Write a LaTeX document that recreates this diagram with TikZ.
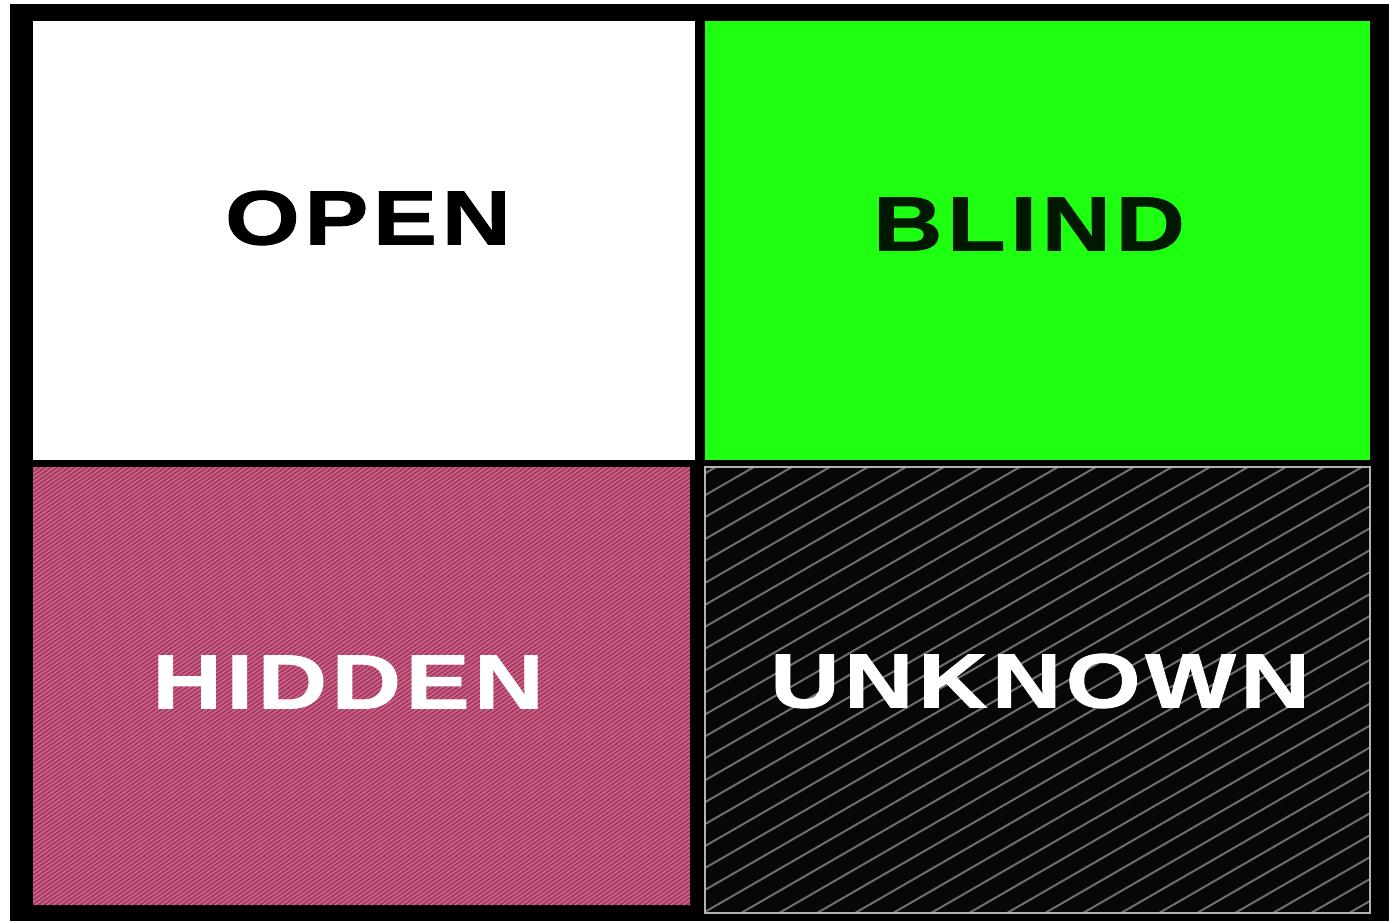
\documentclass[tikz,border=0pt]{standalone}
\usepackage{fontspec}
\newfontfamily\wordfont[FakeStretch=1.25,LetterSpace=6,FakeBold=1.2]{Liberation Sans}
\usetikzlibrary{positioning}
\definecolor{jgreen}{HTML}{1EFF12}
\definecolor{jrose}{HTML}{A23760}
\definecolor{jroseline}{HTML}{CF648C}
\definecolor{jblack}{HTML}{070707}
\definecolor{jgrey}{HTML}{6E6E6E}
\tikzset{
  pane/.style={anchor=north west,inner sep=0pt,outer sep=0pt},
  word/.style={font=\wordfont\bfseries\fontsize{38.4}{40}\selectfont,inner sep=0pt},
  rosehatch/.style={fill=jrose,path picture={
    \foreach \i in {-1000,-994,...,700}
      \draw[jroseline,line width=0.75pt] (path picture bounding box.south west) ++(\i,0) -- ++(1000,-700);}},
  darkhatch/.style={fill=jblack,draw=gray!60,line width=1pt,path picture={
    \foreach \i in {-800,-762,...,700}
      \draw[jgrey,line width=1pt] (path picture bounding box.south west) ++(\i,0) -- ++(1000,-577);}},
}

\begin{document}
\begin{tikzpicture}[x=0.5pt,y=-0.5pt]
  \useasboundingbox (0,0) rectangle (1390,921);
  \node[pane,fill=black,minimum width=1379*0.5pt,minimum height=917*0.5pt] (frame) at (10,4) {};
  \node[pane,fill=white,minimum width=662*0.5pt,minimum height=439*0.5pt] (open) at (33,21) {};
  \node[pane,fill=jgreen,minimum width=665*0.5pt,minimum height=439*0.5pt] (blind) at (705,21) {};
  \node[pane,rosehatch,minimum width=657*0.5pt,minimum height=438*0.5pt] (hidden) at (33,467) {};
  \node[pane,darkhatch,minimum width=665*0.5pt,minimum height=446*0.5pt] (unknown) at (705,467) {};
  \node[word,text=black] (openw) at (368,218) {OPEN};
  \node[word,text=black!90!green] (blindw) at (1029,224) {BLIND};
  \node[word,text=white] (hiddenw) at (348,682) {HIDDEN};
  \node[word,text=white] (unknownw) at (1040,681) {UNKNOWN};
\end{tikzpicture}
\end{document}
